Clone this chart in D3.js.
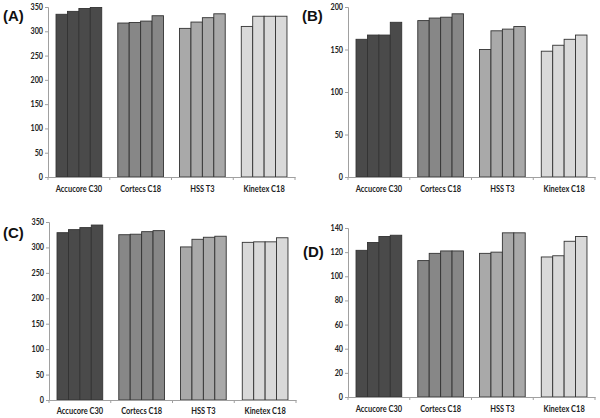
<!DOCTYPE html>
<html><head><meta charset="utf-8">
<script src="https://cdn.jsdelivr.net/npm/d3@7"></script>
<style>body{margin:0;background:#fff}svg{display:block}</style>
</head><body>
<svg id="c" width="600" height="418"></svg>
<script>
const categories = ["Accucore C30", "Cortecs C18", "HSS T3", "Kinetex C18"];
const colors = ["#4a4a4a", "#878787", "#a9a9a9", "#d9d9d9"];
const panelLabels = ["(A)", "(B)", "(C)", "(D)"];
const valuesA = [[335, 341, 347, 349], [317, 318, 321, 332], [306, 319, 328, 336], [310, 331, 331, 331]];
const valuesB = [[162, 167, 167, 182], [184, 187, 188, 192], [150, 172, 174, 177], [148, 155, 162, 167]];
const valuesC = [[329, 335, 339, 344], [325, 326, 331, 333], [301, 316, 320, 322], [310, 311, 311, 319]];
const valuesD = [[121.5, 128, 133, 134], [113, 119, 121, 121], [119, 120, 136, 136], [116, 117, 129, 133]];
const ticksA = [0, 50, 100, 150, 200, 250, 300, 350];
const ticksB = [0, 50, 100, 150, 200];
const ticksC = [0, 50, 100, 150, 200, 250, 300, 350];
const ticksD = [0, 20, 40, 60, 80, 100, 120, 140];

const panels = [
  {vals: valuesA, ticks: ticksA, max: 350, x0: 48, x1: 295, y0: 7, y1: 177, lx: 3, ly: 21, tly: 192},
  {vals: valuesB, ticks: ticksB, max: 200, x0: 348, x1: 595, y0: 7, y1: 177, lx: 302, ly: 21, tly: 192},
  {vals: valuesC, ticks: ticksC, max: 350, x0: 49, x1: 296, y0: 222, y1: 400, lx: 3, ly: 238, tly: 414},
  {vals: valuesD, ticks: ticksD, max: 140, x0: 348, x1: 595, y0: 228, y1: 397, lx: 303, ly: 257, tly: 412}
];
const svg = d3.select("#c");
const font = "Lato, 'Open Sans', sans-serif";
panels.forEach((p, i) => {
  const x = d3.scaleBand().domain(categories).range([p.x0, p.x1]).paddingInner(0.26).paddingOuter(0.13);
  const y = d3.scaleLinear().domain([0, p.max]).range([p.y1, p.y0]);
  const g = svg.append("g");
  const ya = g.append("g").attr("transform", `translate(${p.x0},0)`)
    .call(d3.axisLeft(y).tickValues(p.ticks).tickSize(3).tickPadding(0).tickFormat(""));
  ya.select(".domain").attr("stroke", "#a0a0a0");
  ya.selectAll(".tick line").attr("stroke", "#a0a0a0");
  g.selectAll(null).data(p.ticks).enter().append("text")
    .attr("transform", d => `translate(${p.x0 - 5},${y(d) + 3}) scale(0.85,1)`)
    .attr("text-anchor", "end").attr("font-family", font).attr("font-size", 8.5)
    .attr("font-weight", "bold").attr("fill", "#222").text(d => d);
  categories.forEach((c, ci) => {
    const inner = d3.scaleBand().domain(d3.range(4)).range([x(c), x(c) + x.bandwidth()]);
    g.selectAll(null).data(p.vals[ci]).enter().append("rect")
      .attr("x", (d, k) => inner(k)).attr("width", inner.bandwidth())
      .attr("y", d => y(d)).attr("height", d => p.y1 - y(d))
      .attr("fill", colors[ci]).attr("stroke", "#333").attr("stroke-width", 0.9);
  });
  const xa = g.append("g").attr("transform", `translate(0,${p.y1})`)
    .call(d3.axisBottom(x).tickSize(0).tickFormat(""));
  xa.select(".domain").attr("stroke", "#a0a0a0");
  const bounds = d3.range(5).map(k => p.x0 + k * (p.x1 - p.x0) / 4);
  g.selectAll(null).data(bounds).enter().append("line")
    .attr("x1", d => d).attr("x2", d => d).attr("y1", p.y1).attr("y2", p.y1 + 3).attr("stroke", "#a0a0a0");
  g.selectAll(null).data(categories).enter().append("text")
    .attr("transform", d => `translate(${x(d) + x.bandwidth() / 2},${p.tly}) scale(0.83,1)`)
    .attr("text-anchor", "middle").attr("font-family", font).attr("font-size", 9)
    .attr("font-weight", "bold").attr("fill", "#222").text(d => d);
  svg.append("text").attr("x", p.lx).attr("y", p.ly).attr("font-family", "'Liberation Sans', Arial, sans-serif")
    .attr("font-size", 15).attr("font-weight", "bold").attr("fill", "#111").text(panelLabels[i]);
});
</script>
</body></html>
